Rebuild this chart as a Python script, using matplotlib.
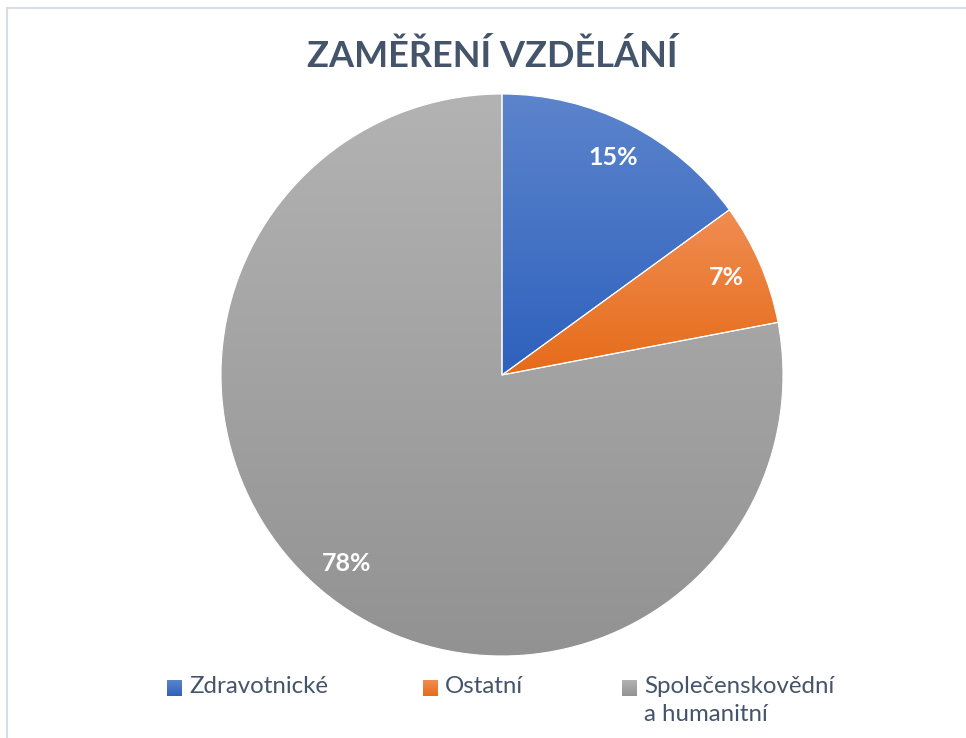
import numpy as np
import matplotlib
matplotlib.use('Agg')
import matplotlib.pyplot as plt
from matplotlib.colors import LinearSegmentedColormap
from matplotlib.patches import Rectangle

# data
labels = ['Zdravotnické', 'Ostatní', 'Společenskovědní\na humanitní']
values = [15, 7, 78]
# gradient colours (top, bottom) for each slice
tops = ['#5C84CC', '#F08D52', '#B3B3B3']
bottoms = ['#2E61BD', '#E66B19', '#929292']
legend_x = [167, 423, 622]

plt.rcParams['font.family'] = ['Lato', 'DejaVu Sans']

W, H = 966, 738
fig = plt.figure(figsize=(W / 100, H / 100), dpi=100)

# light chart border (cropped on right/bottom in reference)
fig.patches.append(Rectangle((7 / W, -0.1), 1.2, 1 - 8 / H + 0.1, transform=fig.transFigure,
                             fill=False, edgecolor='#D9DEE5', linewidth=1.5))

cx, cy, r = 502, 375, 281
ax = fig.add_axes([(cx - r) / W, 1 - (cy + r) / H, 2 * r / W, 2 * r / H])
ax.axis('off')

wedges, texts, autotexts = ax.pie(values, startangle=90, counterclock=False, radius=1,
                                  autopct=lambda p: '%.0f%%' % p, pctdistance=0.87,
                                  wedgeprops=dict(edgecolor='white', linewidth=0.8),
                                  textprops=dict(color='white', fontsize=18, fontweight='bold'))

grad = np.linspace(0, 1, 256).reshape(-1, 1)
for w, t, b in zip(wedges, tops, bottoms):
    v = w.get_path().vertices
    y0, y1 = v[:, 1].min(), v[:, 1].max()
    cmap = LinearSegmentedColormap.from_list('g', [b, t])
    im = ax.imshow(grad, cmap=cmap, origin='lower', aspect='auto',
                   extent=[-1, 1, y0, y1], zorder=w.get_zorder() + 0.1)
    im.set_clip_path(w)
    w.set_facecolor('none')
    w.set_zorder(w.get_zorder() + 0.2)
for at in autotexts:
    at.set_zorder(10)

ax.set_xlim(-1, 1)
ax.set_ylim(-1, 1)

fig.text(492 / W, 1 - 56 / H, 'ZAMĚŘENÍ VZDĚLÁNÍ', ha='center', va='center',
         fontsize=26, fontweight='bold', color='#44546A')

# legend, little gradient squares
for lab, x, t, b in zip(labels, legend_x, tops, bottoms):
    lax = fig.add_axes([x / W, 1 - 696 / H, 15 / W, 16 / H])
    lax.imshow(grad, cmap=LinearSegmentedColormap.from_list('g', [b, t]),
               origin='lower', aspect='auto', extent=[0, 1, 0, 1])
    lax.axis('off')
    fig.text((x + 22) / W, 1 - 676 / H, lab, ha='left', va='top', fontsize=17.3,
             color='#44546A', linespacing=1.4)

fig.savefig('out.png', dpi=100)
